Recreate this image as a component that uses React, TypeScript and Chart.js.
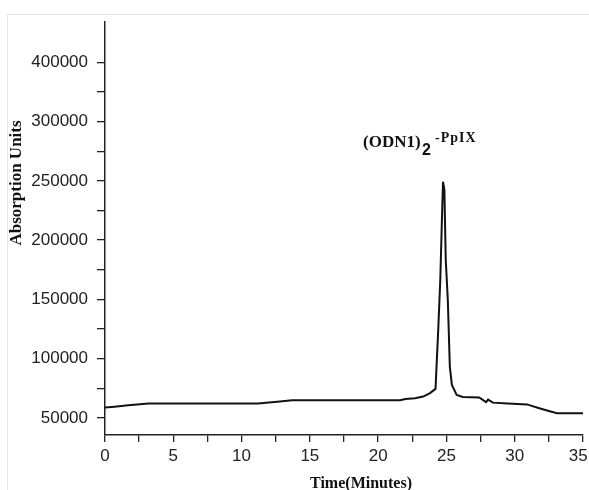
import React, { useEffect, useRef } from "react";
import { Chart, registerables } from "chart.js";

Chart.register(...registerables);

// Chromatogram trace (time in minutes, absorption units)
const timeMinutes = [
  0, 0.7, 1.7, 3.2, 11.2, 12.0, 12.8, 13.7, 21.6, 22.0, 22.7, 23.3, 23.8, 24.2,
  24.4, 24.55, 24.65, 24.75, 24.85, 24.95, 25.1, 25.25, 25.4, 25.75, 26.2, 27.4,
  27.9, 28.05, 28.4, 29.5, 30.9, 31.8, 32.5, 33.1, 35,
];
const absorbance = [
  58700, 59500, 60700, 62100, 62100, 63100, 63900, 64900, 64900, 66000, 66600,
  68000, 70900, 74500, 124300, 166600, 208800, 249300, 242600, 183400, 149700,
  93100, 77900, 69400, 67700, 67300, 63300, 65500, 62900, 62200, 61400, 58200,
  55900, 54000, 54000,
];

const xTickValues = [0, 2.5, 5, 7.5, 10, 12.5, 15, 17.5, 20, 22.5, 25, 27.5, 30, 32.5, 35];
const xTickLabels = ["0", "", "5", "", "10", "", "15", "", "20", "", "25", "", "30", "", "35"];

const yTickValues = [
  50000, 75000, 100000, 125000, 150000, 175000, 200000, 225000, 250000, 275000,
  300000, 325000, 350000,
];
const yTickLabels = [
  "50000", "", "100000", "", "150000", "", "200000", "", "250000", "", "300000", "", "400000",
];

const xTitle = "Time(Minutes)";
const yTitle = "Absorption Units";
const peakName = "(ODN1)";
const peakSub = "2";
const peakSuffix = "-PpIX";

const textPlugin = {
  id: "textPlugin",
  afterDraw(chart: any) {
    const ctx = chart.ctx as CanvasRenderingContext2D;
    ctx.save();
    // faint image border
    ctx.strokeStyle = "#e4e4e4";
    ctx.lineWidth = 1;
    ctx.beginPath();
    ctx.moveTo(7.5, 490);
    ctx.lineTo(7.5, 14.5);
    ctx.lineTo(589, 14.5);
    ctx.stroke();

    ctx.fillStyle = "#111";
    // x title
    ctx.font = 'bold 16px "Liberation Serif", "Times New Roman", serif';
    ctx.textAlign = "center";
    ctx.textBaseline = "alphabetic";
    ctx.fillText(xTitle, 361, 488);

    // y title
    ctx.save();
    ctx.translate(16.5, 183);
    ctx.rotate(-Math.PI / 2);
    ctx.font = 'bold 17px "Liberation Serif", "Times New Roman", serif';
    ctx.textAlign = "center";
    ctx.textBaseline = "middle";
    ctx.fillText(yTitle, 0, 0);
    ctx.restore();

    // peak annotation
    ctx.textAlign = "left";
    ctx.textBaseline = "alphabetic";
    ctx.font = 'bold 17px "Liberation Serif", "Times New Roman", serif';
    ctx.fillText(peakName, 363, 147);
    ctx.font = 'bold 16px "Liberation Sans", Arial, sans-serif';
    ctx.fillText(peakSub, 422, 155);
    ctx.font = 'bold 14px "Liberation Serif", "Times New Roman", serif';
    (ctx as any).letterSpacing = "1px";
    ctx.fillText(peakSuffix, 435, 142);
    ctx.restore();
  },
};

export default function App() {
  const ref = useRef<HTMLCanvasElement | null>(null);

  useEffect(() => {
    if (!ref.current) return;
    const tickFont = { family: '"Liberation Sans", Arial, sans-serif', size: 17 };
    const lastX = xTickLabels.length - 1;
    const chart = new Chart(ref.current, {
      type: "line",
      data: {
        datasets: [
          {
            data: timeMinutes.map((t, i) => ({ x: t, y: absorbance[i] })),
            borderColor: "#111",
            borderWidth: 2,
            pointRadius: 0,
            tension: 0,
            fill: false,
          },
        ],
      },
      options: {
        animation: false,
        responsive: false,
        devicePixelRatio: 1,
        layout: { padding: { left: 0, right: 6, top: 22, bottom: 0 } },
        plugins: { legend: { display: false }, tooltip: { enabled: false } },
        scales: {
          x: {
            type: "linear",
            min: 0,
            max: 35,
            afterBuildTicks: (s: any) => {
              s.ticks = xTickValues.map((v) => ({ value: v }));
            },
            afterFit: (s: any) => {
              s.height = 55;
              s.paddingLeft = 0;
              s.paddingRight = 0;
            },
            ticks: {
              autoSkip: false,
              maxRotation: 0,
              padding: 4,
              color: "#222",
              font: tickFont,
              // last label nudged left (trailing spaces) so it stays inside the page, as in the reference
              callback: (_v: any, i: number) => (i === lastX ? xTickLabels[i] + "  " : xTickLabels[i]),
            },
            grid: { drawOnChartArea: false, tickLength: 7, color: "#222", lineWidth: 1.3 },
            border: { color: "#222", width: 1.5 },
          },
          y: {
            type: "linear",
            min: 35600,
            max: 384000,
            afterBuildTicks: (s: any) => {
              s.ticks = yTickValues.map((v) => ({ value: v }));
            },
            afterFit: (s: any) => {
              s.width = 105;
              s.paddingTop = 0;
              s.paddingBottom = 0;
            },
            ticks: {
              autoSkip: false,
              padding: 9,
              color: "#222",
              font: tickFont,
              callback: (_v: any, i: number) => yTickLabels[i],
            },
            grid: { drawOnChartArea: false, tickLength: 8, color: "#222", lineWidth: 1.3 },
            border: { color: "#222", width: 1.5 },
          },
        },
      },
      plugins: [textPlugin],
    });
    return () => chart.destroy();
  }, []);

  return (
    <div style={{ position: "absolute", left: 0, top: 0, width: 589, height: 490, background: "#fff" }}>
      <canvas ref={ref} width={589} height={490} style={{ display: "block" }} />
    </div>
  );
}
